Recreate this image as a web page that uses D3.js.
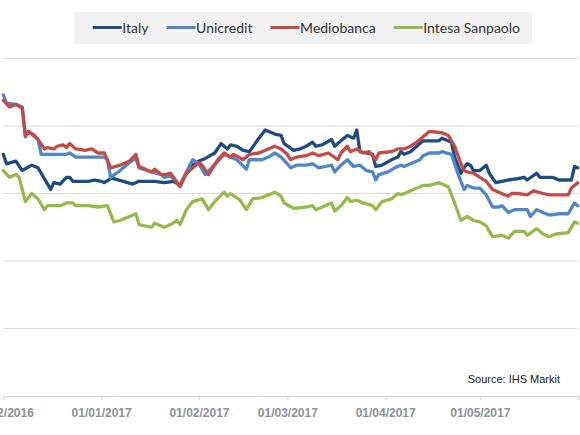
<!DOCTYPE html>
<html>
<head>
<meta charset="utf-8">
<script src="https://cdnjs.cloudflare.com/ajax/libs/d3/7.8.5/d3.min.js"></script>
<style>
  body { margin: 0; background: #ffffff; }
  svg { display: block; }
</style>
</head>
<body>
<div id="chart"></div>
<script>
// series values (date, spread in bp)
var italy = [
  ["2016-12-01", 179], ["2016-12-02", 172], ["2016-12-05", 174], ["2016-12-07", 167], ["2016-12-10", 171],
  ["2016-12-12", 169], ["2016-12-13", 165], ["2016-12-16", 153], ["2016-12-17", 158], ["2016-12-19", 157],
  ["2016-12-21", 162], ["2016-12-22", 162], ["2016-12-23", 159], ["2016-12-28", 159], ["2016-12-30", 160],
  ["2017-01-01", 159], ["2017-01-02", 158], ["2017-01-04", 161], ["2017-01-05", 161], ["2017-01-08", 159],
  ["2017-01-11", 157], ["2017-01-13", 159], ["2017-01-18", 159], ["2017-01-21", 158], ["2017-01-24", 159],
  ["2017-01-26", 156], ["2017-01-27", 161], ["2017-01-30", 171], ["2017-02-01", 174], ["2017-02-03", 176],
  ["2017-02-06", 180], ["2017-02-08", 187], ["2017-02-10", 183], ["2017-02-11", 186], ["2017-02-13", 185],
  ["2017-02-15", 182], ["2017-02-17", 181], ["2017-02-20", 191], ["2017-02-22", 197], ["2017-02-25", 194],
  ["2017-02-27", 193], ["2017-02-28", 187], ["2017-03-03", 182], ["2017-03-05", 183], ["2017-03-07", 185],
  ["2017-03-09", 188], ["2017-03-10", 185], ["2017-03-12", 186], ["2017-03-15", 190], ["2017-03-16", 185],
  ["2017-03-18", 189], ["2017-03-20", 193], ["2017-03-22", 191], ["2017-03-23", 197], ["2017-03-24", 181],
  ["2017-03-26", 180], ["2017-03-28", 179], ["2017-03-29", 170], ["2017-03-31", 171], ["2017-04-03", 175],
  ["2017-04-05", 177], ["2017-04-06", 181], ["2017-04-07", 179], ["2017-04-09", 181], ["2017-04-11", 185],
  ["2017-04-13", 189], ["2017-04-18", 189], ["2017-04-19", 191], ["2017-04-22", 188], ["2017-04-23", 177],
  ["2017-04-25", 165], ["2017-04-26", 169], ["2017-04-27", 172], ["2017-04-28", 171], ["2017-04-29", 167],
  ["2017-05-01", 167], ["2017-05-03", 171], ["2017-05-04", 165], ["2017-05-06", 158], ["2017-05-08", 159],
  ["2017-05-10", 160], ["2017-05-13", 161], ["2017-05-15", 162], ["2017-05-16", 160], ["2017-05-19", 165],
  ["2017-05-20", 162], ["2017-05-22", 162], ["2017-05-24", 162], ["2017-05-26", 160], ["2017-05-30", 160],
  ["2017-05-31", 170], ["2017-06-01", 169]
];

var unicredit = [
  ["2016-12-01", 223], ["2016-12-02", 217], ["2016-12-05", 216], ["2016-12-07", 214], ["2016-12-08", 193],
  ["2016-12-09", 196], ["2016-12-11", 193], ["2016-12-12", 190], ["2016-12-13", 179], ["2016-12-21", 179],
  ["2016-12-22", 180], ["2016-12-24", 177], ["2017-01-02", 177], ["2017-01-03", 175], ["2017-01-04", 162],
  ["2017-01-07", 167], ["2017-01-10", 173], ["2017-01-12", 176], ["2017-01-13", 169], ["2017-01-17", 166],
  ["2017-01-20", 164], ["2017-01-21", 162], ["2017-01-23", 163], ["2017-01-26", 156], ["2017-01-28", 166],
  ["2017-01-30", 175], ["2017-02-01", 172], ["2017-02-03", 164], ["2017-02-07", 174], ["2017-02-09", 179],
  ["2017-02-11", 177], ["2017-02-13", 175], ["2017-02-16", 168], ["2017-02-17", 175], ["2017-02-21", 175],
  ["2017-02-23", 177], ["2017-02-25", 180], ["2017-02-27", 177], ["2017-03-01", 172], ["2017-03-02", 169],
  ["2017-03-04", 171], ["2017-03-07", 171], ["2017-03-09", 172], ["2017-03-11", 169], ["2017-03-13", 170],
  ["2017-03-15", 171], ["2017-03-16", 166], ["2017-03-18", 171], ["2017-03-20", 175], ["2017-03-22", 170],
  ["2017-03-24", 171], ["2017-03-26", 167], ["2017-03-28", 166], ["2017-03-29", 160], ["2017-03-30", 164],
  ["2017-04-02", 166], ["2017-04-04", 169], ["2017-04-06", 171], ["2017-04-07", 170], ["2017-04-09", 172],
  ["2017-04-12", 175], ["2017-04-13", 178], ["2017-04-15", 180], ["2017-04-18", 180], ["2017-04-19", 181],
  ["2017-04-22", 179], ["2017-04-24", 165], ["2017-04-26", 153], ["2017-04-27", 156], ["2017-04-29", 154],
  ["2017-05-01", 154], ["2017-05-03", 149], ["2017-05-05", 140], ["2017-05-07", 140], ["2017-05-08", 141],
  ["2017-05-10", 136], ["2017-05-12", 138], ["2017-05-16", 138], ["2017-05-17", 133], ["2017-05-19", 138],
  ["2017-05-21", 136], ["2017-05-23", 134], ["2017-05-26", 135], ["2017-05-29", 135], ["2017-05-31", 143],
  ["2017-06-01", 141]
];

var mediobanca = [
  ["2016-12-01", 219], ["2016-12-03", 214], ["2016-12-05", 216], ["2016-12-07", 213], ["2016-12-08", 192],
  ["2016-12-09", 196], ["2016-12-12", 190], ["2016-12-14", 183], ["2016-12-15", 184], ["2016-12-17", 183],
  ["2016-12-18", 185], ["2016-12-20", 186], ["2016-12-21", 184], ["2016-12-22", 187], ["2016-12-24", 183],
  ["2016-12-27", 182], ["2016-12-29", 183], ["2016-12-31", 180], ["2017-01-02", 180], ["2017-01-04", 169],
  ["2017-01-07", 171], ["2017-01-10", 174], ["2017-01-12", 179], ["2017-01-13", 170], ["2017-01-14", 169],
  ["2017-01-17", 166], ["2017-01-18", 168], ["2017-01-20", 164], ["2017-01-21", 164], ["2017-01-23", 165],
  ["2017-01-26", 155], ["2017-01-28", 165], ["2017-02-01", 173], ["2017-02-02", 171], ["2017-02-04", 164],
  ["2017-02-07", 175], ["2017-02-09", 180], ["2017-02-11", 177], ["2017-02-12", 179], ["2017-02-15", 175],
  ["2017-02-17", 179], ["2017-02-20", 180], ["2017-02-22", 182], ["2017-02-25", 185], ["2017-02-27", 183],
  ["2017-03-01", 179], ["2017-03-02", 175], ["2017-03-04", 177], ["2017-03-07", 178], ["2017-03-09", 180],
  ["2017-03-11", 178], ["2017-03-14", 180], ["2017-03-17", 175], ["2017-03-18", 180], ["2017-03-20", 185],
  ["2017-03-21", 181], ["2017-03-23", 183], ["2017-03-25", 180], ["2017-03-27", 181], ["2017-03-29", 175],
  ["2017-03-30", 180], ["2017-04-03", 181], ["2017-04-05", 183], ["2017-04-07", 183], ["2017-04-09", 185],
  ["2017-04-11", 188], ["2017-04-13", 192], ["2017-04-15", 196], ["2017-04-19", 195], ["2017-04-21", 193],
  ["2017-04-23", 185], ["2017-04-25", 172], ["2017-04-26", 167], ["2017-04-27", 166], ["2017-04-29", 165],
  ["2017-05-01", 162], ["2017-05-03", 159], ["2017-05-05", 153], ["2017-05-07", 151], ["2017-05-10", 148],
  ["2017-05-11", 150], ["2017-05-13", 150], ["2017-05-16", 149], ["2017-05-18", 152], ["2017-05-21", 150],
  ["2017-05-23", 149], ["2017-05-29", 149], ["2017-05-30", 154], ["2017-06-01", 158]
];

var intesa = [
  ["2016-12-01", 167], ["2016-12-03", 162], ["2016-12-05", 164], ["2016-12-06", 162], ["2016-12-08", 144],
  ["2016-12-10", 150], ["2016-12-12", 146], ["2016-12-14", 138], ["2016-12-15", 141], ["2016-12-19", 141],
  ["2016-12-21", 143], ["2016-12-23", 143], ["2016-12-24", 141], ["2016-12-28", 141], ["2016-12-31", 140],
  ["2017-01-03", 141], ["2017-01-05", 129], ["2017-01-07", 130], ["2017-01-10", 133], ["2017-01-12", 135],
  ["2017-01-13", 127], ["2017-01-17", 125], ["2017-01-18", 128], ["2017-01-21", 125], ["2017-01-23", 127],
  ["2017-01-25", 130], ["2017-01-26", 127], ["2017-01-28", 138], ["2017-01-30", 144], ["2017-02-02", 146],
  ["2017-02-04", 138], ["2017-02-06", 144], ["2017-02-09", 151], ["2017-02-10", 148], ["2017-02-11", 150],
  ["2017-02-14", 145], ["2017-02-16", 138], ["2017-02-18", 146], ["2017-02-21", 147], ["2017-02-25", 151],
  ["2017-02-27", 148], ["2017-02-28", 143], ["2017-03-03", 139], ["2017-03-07", 140], ["2017-03-09", 141],
  ["2017-03-10", 138], ["2017-03-13", 141], ["2017-03-15", 143], ["2017-03-16", 137], ["2017-03-18", 141],
  ["2017-03-20", 147], ["2017-03-21", 144], ["2017-03-23", 145], ["2017-03-25", 143], ["2017-03-28", 141],
  ["2017-03-29", 138], ["2017-03-31", 144], ["2017-04-03", 146], ["2017-04-05", 150], ["2017-04-06", 149],
  ["2017-04-08", 151], ["2017-04-10", 153], ["2017-04-13", 156], ["2017-04-15", 156], ["2017-04-18", 158],
  ["2017-04-21", 155], ["2017-04-23", 143], ["2017-04-25", 130], ["2017-04-27", 133], ["2017-04-29", 130],
  ["2017-05-01", 129], ["2017-05-03", 126], ["2017-05-05", 118], ["2017-05-08", 119], ["2017-05-10", 117],
  ["2017-05-12", 122], ["2017-05-15", 122], ["2017-05-16", 119], ["2017-05-19", 124], ["2017-05-21", 120],
  ["2017-05-23", 118], ["2017-05-25", 120], ["2017-05-29", 121], ["2017-05-31", 129], ["2017-06-01", 128]
];

var seriesNames = ["Italy", "Unicredit", "Mediobanca", "Intesa Sanpaolo"];
var seriesData = [italy, unicredit, mediobanca, intesa];
var seriesColors = ["#204a82", "#5186c8", "#c44b48", "#95bb4f"];

var tickDates = ["2016-12-01", "2017-01-01", "2017-02-01", "2017-03-01", "2017-04-01", "2017-05-01", "2017-06-01"];
var yDomain = [0, 250];
var sourceText = "Source: IHS Markit";

var width = 580;
var height = 435;
var parseDate = d3.timeParse("%Y-%m-%d");
var formatDate = d3.timeFormat("%d/%m/%Y");

var svg = d3.select("#chart").append("svg")
  .attr("width", width)
  .attr("height", height);

svg.append("rect")
  .attr("width", width)
  .attr("height", height)
  .attr("fill", "#ffffff");

var x = d3.scaleTime()
  .domain([parseDate(tickDates[0]), parseDate(tickDates[tickDates.length - 1])])
  .range([3.3, 577.7]);

var y = d3.scaleLinear()
  .domain(yDomain)
  .range([396, 58.5]);

// horizontal grid
svg.append("g")
  .selectAll("line")
  .data(y.ticks(5).filter(function (d) { return d > 0; }))
  .enter()
  .append("line")
  .attr("x1", x.range()[0])
  .attr("x2", x.range()[1])
  .attr("y1", function (d) { return y(d); })
  .attr("y2", function (d) { return y(d); })
  .attr("stroke", "#dcdcdc")
  .attr("stroke-width", 1.2);

// x axis
var lastTick = tickDates[tickDates.length - 1];
var xAxis = d3.axisBottom(x)
  .tickValues(tickDates.map(parseDate))
  .tickSizeInner(4)
  .tickSizeOuter(0)
  .tickPadding(8)
  .tickFormat(function (d) {
    return formatDate(d) === formatDate(parseDate(lastTick)) ? "" : formatDate(d);
  });

var axisG = svg.append("g")
  .attr("transform", "translate(0," + y(0) + ")")
  .call(xAxis);

axisG.select(".domain").attr("stroke", "#d6d6d6").attr("stroke-width", 1.2);
axisG.selectAll(".tick line").attr("stroke", "#d6d6d6").attr("stroke-width", 1.2);
axisG.selectAll(".tick text")
  .attr("fill", "#8a939b")
  .attr("font-family", "'Liberation Sans', Arial, sans-serif")
  .attr("font-weight", "bold")
  .attr("font-size", 12);

// lines
var line = d3.line()
  .x(function (d) { return x(parseDate(d[0])); })
  .y(function (d) { return y(d[1]); });

svg.append("g")
  .selectAll("path")
  .data(seriesData)
  .enter()
  .append("path")
  .attr("d", line)
  .attr("fill", "none")
  .attr("stroke", function (d, i) { return seriesColors[i]; })
  .attr("stroke-width", 3.3)
  .attr("stroke-linejoin", "round")
  .attr("stroke-linecap", "round");

// source note
svg.append("text")
  .attr("x", 560)
  .attr("y", 383)
  .attr("text-anchor", "end")
  .attr("font-family", "'Liberation Sans', Arial, sans-serif")
  .attr("font-size", 11)
  .attr("fill", "#1a1a1a")
  .text(sourceText);

// legend
var legend = svg.append("g");
legend.append("rect")
  .attr("x", 74)
  .attr("y", 12)
  .attr("width", 458)
  .attr("height", 32)
  .attr("fill", "#f2f2f2");

var cursor = 92.7;
seriesNames.forEach(function (name, i) {
  legend.append("line")
    .attr("x1", cursor)
    .attr("x2", cursor + 29)
    .attr("y1", 27.5)
    .attr("y2", 27.5)
    .attr("stroke", seriesColors[i])
    .attr("stroke-width", 3);
  var label = legend.append("text")
    .attr("x", cursor + 29.6)
    .attr("y", 32.8)
    .attr("font-family", "Lato, 'Open Sans', sans-serif")
    .attr("font-size", 14)
    .attr("fill", "#333333")
    .text(name);
  cursor = cursor + 29.6 + label.node().getComputedTextLength() + 18;
});
</script>
</body>
</html>
